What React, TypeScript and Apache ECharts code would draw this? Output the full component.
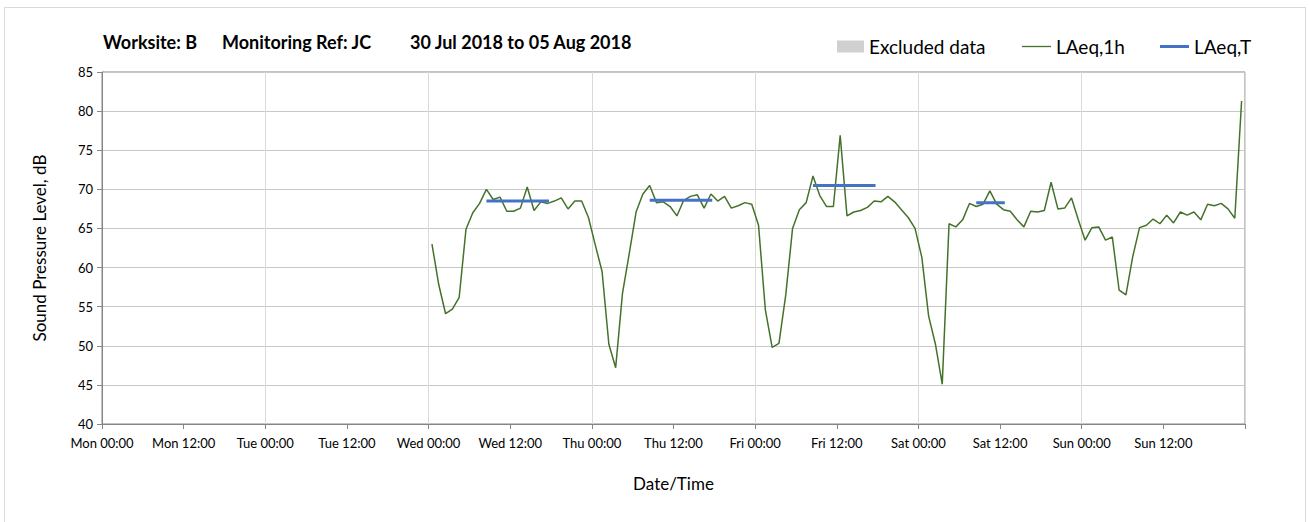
import React, { useEffect, useRef } from "react";
import * as echarts from "echarts";

// Day names for the x-axis (hours counted from Mon 00:00, 30 Jul 2018)
const dayNames = ["Mon", "Tue", "Wed", "Thu", "Fri", "Sat", "Sun", "Mon"];

// First hourly reading is plotted at Wed 00:30 (hour 48.5 from Mon 00:00)
const firstReadingHour = 48.5;

// LAeq,1h values, one per hour
const wedValues = [63.0, 57.8, 54.1, 54.7, 56.2, 64.9, 67.0, 68.2, 70.0, 68.7, 69.0, 67.2, 67.2, 67.6, 70.3, 67.3, 68.4, 68.2, 68.5, 68.9, 67.5, 68.5, 68.5, 66.4];
const thuValues = [62.9, 59.5, 50.2, 47.2, 56.7, 61.8, 67.1, 69.4, 70.5, 68.3, 68.4, 67.8, 66.6, 68.6, 69.1, 69.3, 67.6, 69.4, 68.5, 69.1, 67.6, 67.9, 68.3, 68.1];
const friValues = [65.4, 54.6, 49.8, 50.3, 56.5, 65.0, 67.4, 68.3, 71.7, 69.2, 67.8, 67.8, 76.9, 66.6, 67.1, 67.3, 67.7, 68.5, 68.4, 69.1, 68.4, 67.4, 66.4, 65.0];
const satValues = [61.3, 53.8, 50.2, 45.1, 65.6, 65.2, 66.1, 68.2, 67.8, 68.1, 69.8, 68.1, 67.4, 67.2, 66.1, 65.2, 67.2, 67.1, 67.3, 70.9, 67.5, 67.6, 68.9, 66.1];
const sunValues = [63.5, 65.1, 65.2, 63.5, 63.9, 57.1, 56.5, 61.4, 65.1, 65.4, 66.2, 65.6, 66.7, 65.7, 67.1, 66.7, 67.1, 66.1, 68.1, 67.9, 68.2, 67.5, 66.3, 81.3];

// LAeq,T periods (hours from Mon 00:00) and levels
const laeqTStart = [56.5, 80.5, 104.5, 128.5];
const laeqTEnd = [65.7, 89.7, 113.7, 132.7];
const laeqTValue = [68.5, 68.6, 70.5, 68.3];

// Title parts
const titleParts = ["Worksite: B", "Monitoring Ref: JC", "30 Jul 2018 to 05 Aug 2018"];

const FONT = "Lato, 'Open Sans', sans-serif";

export default function App() {
  const ref = useRef<HTMLDivElement>(null);

  useEffect(() => {
    if (!ref.current) return;
    const chart = echarts.init(ref.current, null, { renderer: "svg" });

    const hourly = [...wedValues, ...thuValues, ...friValues, ...satValues, ...sunValues];
    const laeq1hData = hourly.map((v, i) => [firstReadingHour + i, v]);

    const laeqTSeries = laeqTValue.map((v, i) => ({
      name: "LAeq,T",
      type: "line",
      data: [
        [laeqTStart[i], v],
        [laeqTEnd[i], v],
      ],
      symbol: "none",
      lineStyle: { color: "#4472c4", width: 3 },
      itemStyle: { color: "#4472c4" },
      z: 4,
    }));

    const axisGray = "#868686";
    const titleLefts = [103, 222, 410];

    const legendBase = {
      top: 37,
      padding: 0,
      itemHeight: 12,
      selectedMode: false,
      textStyle: { fontFamily: FONT, fontSize: 19, color: "#000000" },
    };

    const option: any = {
      animation: false,
      backgroundColor: "#ffffff",
      textStyle: { fontFamily: FONT },
      title: titleParts.map((t, i) => ({
        text: t,
        left: titleLefts[i],
        top: 33,
        padding: 0,
        textStyle: { fontFamily: FONT, fontSize: 18, fontWeight: "bold", color: "#000000" },
      })),
      legend: [
        {
          ...legendBase,
          data: [{ name: "Excluded data", icon: "rect" }],
          left: 837,
          itemWidth: 27,
        },
        {
          ...legendBase,
          data: [{ name: "LAeq,1h", icon: "path://M0,0H29V1.3H0Z" }],
          left: 1022,
          itemWidth: 29,
        },
        {
          ...legendBase,
          data: [{ name: "LAeq,T", icon: "path://M0,0H29V3H0Z" }],
          left: 1160,
          itemWidth: 29,
        },
      ],
      graphic: [
        {
          type: "rect",
          silent: true,
          z: -10,
          shape: { x: 4.5, y: 7.5, width: 1301, height: 540 },
          style: { fill: "none", stroke: "#d9d9d9", lineWidth: 1 },
        },
      ],
      grid: {
        left: 102,
        right: 64,
        top: 72,
        bottom: 98,
        show: true,
        borderColor: axisGray,
        borderWidth: 1,
      },
      xAxis: [
        {
          type: "value",
          min: 0,
          max: 168,
          interval: 12,
          name: "Date/Time",
          nameLocation: "middle",
          nameGap: 51,
          nameTextStyle: { fontFamily: FONT, fontSize: 17, color: "#000000" },
          axisLine: { show: true, lineStyle: { color: axisGray } },
          axisTick: { show: true, length: 5, lineStyle: { color: axisGray } },
          axisLabel: {
            fontFamily: FONT,
            fontSize: 13,
            color: "#000000",
            margin: 12,
            formatter: (v: number) => {
              if (v >= 168) return "";
              const d = dayNames[Math.floor(v / 24)];
              return `${d} ${v % 24 === 0 ? "00" : "12"}:00`;
            },
          },
          splitLine: { show: false },
        },
        {
          type: "value",
          min: 0,
          max: 168,
          interval: 24,
          position: "top",
          axisLine: { show: false },
          axisTick: { show: false },
          axisLabel: { show: false },
          splitLine: { show: true, lineStyle: { color: "#d9d9d9", width: 1 } },
        },
      ],
      yAxis: {
        type: "value",
        min: 40,
        max: 85,
        interval: 5,
        name: "Sound Pressure Level, dB",
        nameLocation: "middle",
        nameGap: 54,
        nameTextStyle: { fontFamily: FONT, fontSize: 17, color: "#000000" },
        axisLine: { show: true, lineStyle: { color: axisGray } },
        axisTick: { show: true, length: 5, lineStyle: { color: axisGray } },
        axisLabel: { fontFamily: FONT, fontSize: 13, color: "#000000", margin: 9 },
        splitLine: { show: true, lineStyle: { color: "#c8c8c8", width: 1 } },
      },
      series: [
        {
          name: "Excluded data",
          type: "bar",
          data: [],
          itemStyle: { color: "#d0d0d0" },
        },
        {
          name: "LAeq,1h",
          type: "line",
          data: laeq1hData,
          symbol: "none",
          lineStyle: { color: "#45722a", width: 1.5 },
          itemStyle: { color: "#45722a" },
          z: 3,
        },
        ...laeqTSeries,
      ],
    };

    chart.setOption(option);
    return () => {
      chart.dispose();
    };
  }, []);

  return (
    <div
      ref={ref}
      style={{ position: "absolute", left: 0, top: 0, width: 1309, height: 522 }}
    />
  );
}
